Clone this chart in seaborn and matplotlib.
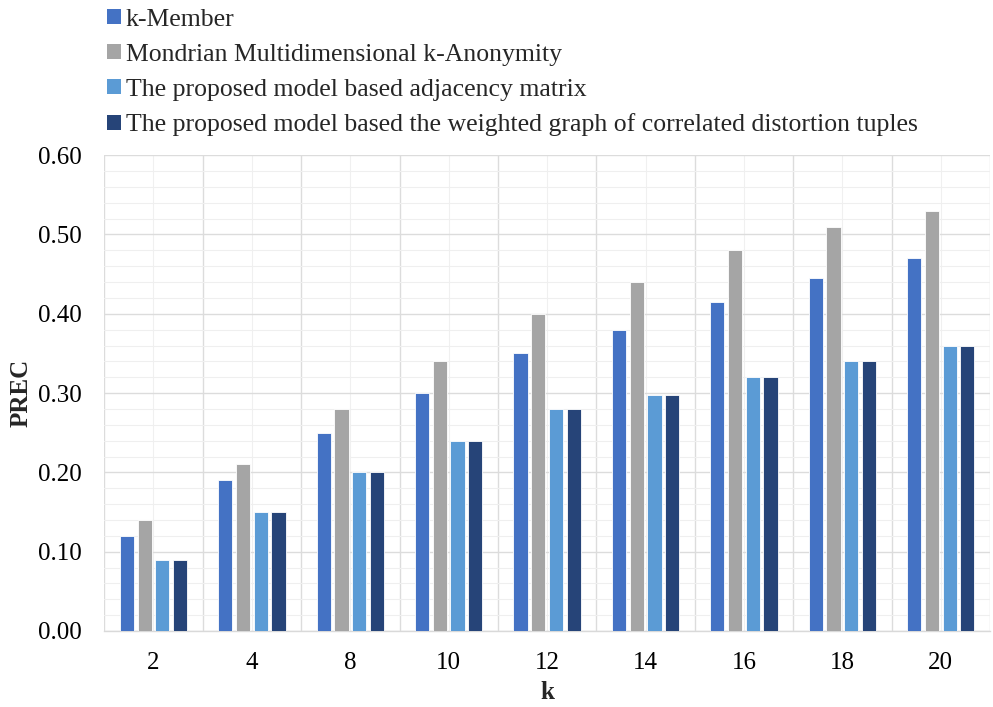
import numpy as np
import pandas as pd
import matplotlib
matplotlib.use("Agg")
import matplotlib.pyplot as plt
import seaborn as sns
from matplotlib.ticker import MultipleLocator, FormatStrFormatter
from matplotlib.patches import Patch

k_values = ["2", "4", "8", "10", "12", "14", "16", "18", "20"]
series_names = [
    "k-Member",
    "Mondrian Multidimensional k-Anonymity",
    "The proposed model based adjacency matrix",
    "The proposed model based the weighted graph of correlated distortion tuples",
]
k_member = [0.12, 0.19, 0.25, 0.30, 0.35, 0.38, 0.415, 0.445, 0.47]
mondrian = [0.14, 0.21, 0.28, 0.34, 0.40, 0.44, 0.48, 0.51, 0.53]
adjacency = [0.09, 0.15, 0.20, 0.24, 0.28, 0.298, 0.32, 0.34, 0.36]
weighted = [0.09, 0.15, 0.20, 0.24, 0.28, 0.298, 0.32, 0.34, 0.36]
colors = ["#4472C4", "#A5A5A5", "#5B9BD5", "#264478"]

rows = []
for name, vals in zip(series_names, [k_member, mondrian, adjacency, weighted]):
    for k, v in zip(k_values, vals):
        rows.append({"k": k, "PREC": v, "Series": name})
df = pd.DataFrame(rows)

sns.set_theme(style="white")
plt.rcParams["font.family"] = ["Liberation Serif", "DejaVu Serif"]

fig = plt.figure(figsize=(9.93, 7.07), dpi=100)
ax = fig.add_axes([0.105, 0.1075, 0.892, 0.673])

sns.barplot(data=df, x="k", y="PREC", hue="Series", order=k_values,
            hue_order=series_names, palette=colors, saturation=1,
            width=0.72, gap=0.2, edgecolor="white", linewidth=0.6,
            ax=ax, legend=False, zorder=3)

ax.set_ylim(0, 0.6)
ax.set_xlim(-0.5, len(k_values) - 0.5)
ax.yaxis.set_major_locator(MultipleLocator(0.1))
ax.yaxis.set_minor_locator(MultipleLocator(0.02))
ax.yaxis.set_major_formatter(FormatStrFormatter("%.2f"))
ax.set_xticks(np.arange(len(k_values)))
ax.set_xticks(np.arange(len(k_values) + 1) - 0.5, minor=True)

ax.grid(which="major", axis="y", color="#dcdcdc", linewidth=1.0, zorder=0)
ax.grid(which="minor", axis="y", color="#efefef", linewidth=0.8, zorder=0)
ax.grid(which="major", axis="x", color="#f0f0f0", linewidth=0.8, zorder=0)
ax.grid(which="minor", axis="x", color="#dcdcdc", linewidth=1.0, zorder=0)
ax.set_axisbelow(True)

for s in ["top", "right", "left"]:
    ax.spines[s].set_visible(False)
ax.spines["bottom"].set_color("#d9d9d9")
ax.spines["bottom"].set_linewidth(1.0)

ax.tick_params(axis="both", which="both", length=0, labelsize=18, colors="black")
ax.tick_params(axis="x", pad=15)
ax.tick_params(axis="y", pad=16)
ax.set_xlabel("k", fontsize=18, fontweight="bold", labelpad=5)
ax.set_ylabel("PREC", fontsize=18, fontweight="bold", labelpad=4)

handles = [Patch(facecolor=c, edgecolor="none") for c in colors]
fig.legend(handles, series_names, loc="upper left", bbox_to_anchor=(0.0977, 1.002),
           frameon=False, fontsize=18.5, handlelength=0.52, handleheight=0.52,
           handletextpad=0.2, labelspacing=0.5, borderaxespad=0)

fig.savefig("out.png", dpi=100)
